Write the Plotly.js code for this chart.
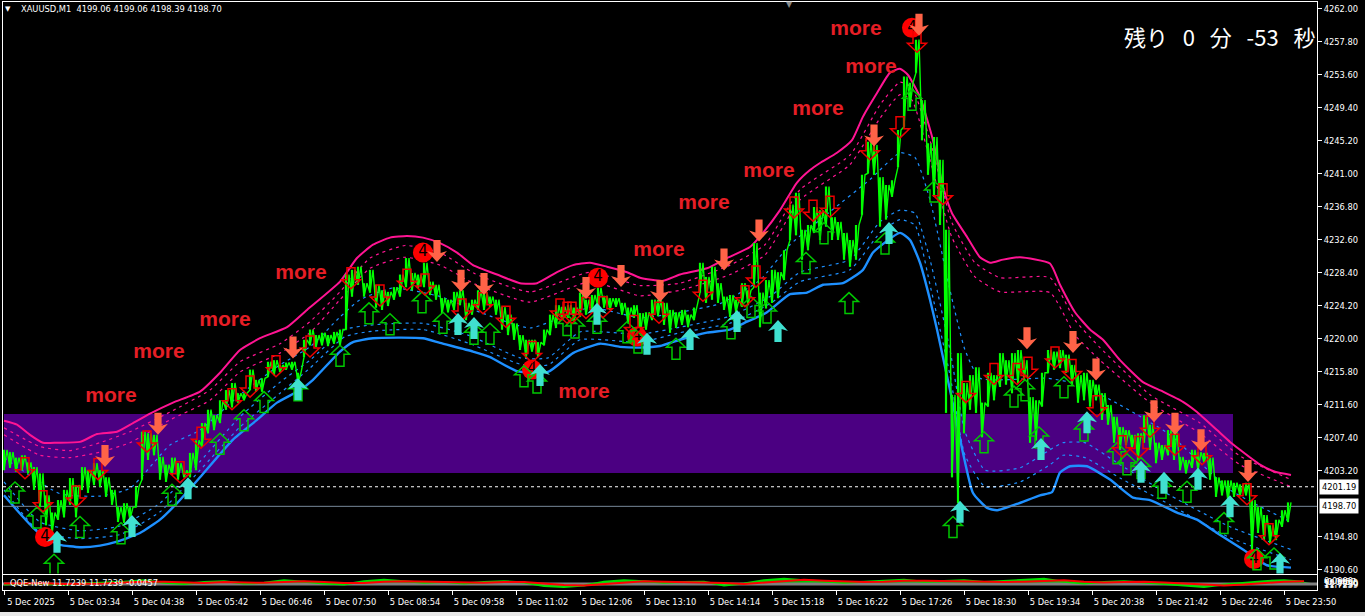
<!DOCTYPE html>
<html><head><meta charset="utf-8">
<script src="https://cdn.plot.ly/plotly-3.0.1.min.js"></script>
<style>html,body{margin:0;padding:0;background:#000;overflow:hidden}</style></head>
<body><div id="chart" style="width:1365px;height:616px"></div>
<script>
// x axis unit: minutes since 02:26 on 5 Dec 2025 (one bar per minute)
const tickMinutes=[4,68,132,196,260,324,388,452,516,580,644,708,772,836,900,964,1028,1092,1156,1220,1284];
const tickLabels=["5 Dec 2025","5 Dec 03:34","5 Dec 04:38","5 Dec 05:42","5 Dec 06:46","5 Dec 07:50","5 Dec 08:54","5 Dec 09:58","5 Dec 11:02","5 Dec 12:06","5 Dec 13:10","5 Dec 14:14","5 Dec 15:18","5 Dec 16:22","5 Dec 17:26","5 Dec 18:30","5 Dec 19:34","5 Dec 20:38","5 Dec 21:42","5 Dec 22:46","5 Dec 23:50"];
const priceTicks=[4262,4257.8,4253.6,4249.4,4245.2,4241,4236.8,4232.6,4228.4,4224.2,4220,4215.8,4211.6,4207.4,4203.2,4194.8,4190.6];
const priceTickText=["4262.00","4257.80","4253.60","4249.40","4245.20","4241.00","4236.80","4232.60","4228.40","4224.20","4220.00","4215.80","4211.60","4207.40","4203.20","4194.80","4190.60"];
const askLine=4201.19, bidLine=4198.70;
const zoneLow=4202.95, zoneHigh=4210.45, zoneStart=4, zoneEnd=1233;

// high and low of every six-bar stretch, first stretch at minute 4
const priceHigh=[
4205.9,4205.6,4204.9,4205.2,4204.3,4203.7,4202.9,4200.1,4197.9,4199.5,
4200.8,4202.3,4201.4,4203.7,4203.3,4204.2,4203.3,4202.4,4200.8,4198.6,
4199.1,4198.6,4201.2,4208.2,4208.0,4207.8,4205.0,4204.0,4204.9,4204.2,
4203.3,4205.5,4207.1,4209.3,4211.0,4210.3,4212.2,4213.5,4214.4,4213.1,
4213.1,4216.1,4214.8,4215.0,4217.1,4217.3,4216.7,4217.0,4217.1,4215.7,
4219.9,4221.2,4220.5,4220.8,4220.5,4220.9,4221.2,4228.2,4228.8,4229.2,
4227.1,4228.8,4226.9,4226.2,4226.0,4226.6,4228.2,4230.3,4228.4,4228.2,
4229.7,4227.3,4226.9,4225.2,4225.0,4226.0,4226.2,4224.6,4225.0,4226.2,
4225.9,4225.4,4225.0,4224.1,4223.1,4222.0,4220.5,4219.9,4219.9,4219.6,
4221.2,4223.1,4224.3,4224.1,4224.3,4224.0,4225.9,4225.0,4225.6,4226.5,
4225.5,4225.2,4225.2,4224.6,4224.0,4224.3,4223.3,4223.4,4225.0,4225.0,
4224.6,4223.7,4223.4,4223.7,4223.1,4224.0,4229.7,4227.9,4229.2,4227.1,
4225.4,4225.6,4225.0,4227.1,4226.2,4232.2,4225.9,4227.5,4228.8,4228.5,
4231.3,4237.1,4238.6,4233.9,4234.5,4236.8,4236.4,4239.4,4235.5,4234.9,
4233.5,4232.6,4234.5,4240.9,4245.1,4244.7,4240.6,4239.6,4240.2,4246.6,
4253.4,4252.6,4258.1,4250.4,4244.9,4245.7,4242.8,4233.9,4212.9,4218.2,
4214.4,4215.4,4216.4,4211.9,4215.7,4215.4,4218.2,4217.3,4218.2,4218.6,
4217.3,4212.6,4212.2,4215.7,4218.6,4218.4,4218.6,4218.0,4216.7,4215.4,
4215.7,4214.8,4214.2,4213.1,4211.6,4210.1,4208.8,4208.4,4207.8,4208.0,
4210.3,4209.1,4206.8,4206.5,4208.4,4208.2,4205.0,4204.6,4205.9,4205.6,
4205.5,4204.9,4202.4,4202.0,4202.0,4201.7,4201.5,4201.7,4199.5,4198.6,
4197.6,4196.3,4197.0,4198.2,4199.2];
const priceLow=[
4203.3,4203.6,4203.1,4203.3,4202.9,4200.8,4198.6,4196.3,4195.3,4197.0,
4197.3,4198.9,4197.3,4200.8,4200.4,4201.4,4201.2,4199.9,4198.9,4196.7,
4196.6,4197.0,4198.6,4202.1,4204.6,4205.2,4202.1,4201.8,4202.7,4202.1,
4202.4,4202.4,4203.3,4206.3,4208.0,4208.4,4209.3,4211.0,4211.3,4211.9,
4212.2,4213.5,4213.3,4213.3,4215.2,4215.4,4215.8,4216.1,4216.1,4214.4,
4217.7,4219.2,4219.0,4219.2,4219.1,4219.4,4219.2,4221.2,4225.4,4226.9,
4225.4,4225.9,4224.0,4223.7,4224.2,4225.0,4225.4,4226.6,4226.2,4226.5,
4226.6,4225.6,4225.0,4223.3,4223.4,4223.7,4224.3,4222.4,4223.1,4223.7,
4223.7,4224.1,4223.1,4221.2,4220.5,4219.9,4218.6,4217.6,4218.4,4217.7,
4219.2,4220.5,4221.4,4222.4,4222.7,4222.4,4222.8,4223.1,4223.7,4224.1,
4224.0,4223.7,4224.1,4223.1,4222.0,4222.7,4220.3,4221.2,4222.4,4222.9,
4221.8,4220.8,4221.4,4221.8,4221.5,4222.4,4225.9,4224.6,4225.0,4224.6,
4223.7,4222.8,4223.4,4224.1,4224.3,4226.6,4221.5,4223.9,4224.6,4225.2,
4227.5,4232.6,4233.2,4230.1,4231.3,4233.5,4232.6,4234.3,4232.6,4232.6,
4230.1,4229.2,4230.1,4235.8,4241.1,4240.9,4234.3,4235.2,4238.1,4241.9,
4247.0,4249.5,4253.9,4245.3,4240.9,4238.1,4234.5,4210.6,4202.4,4199.1,
4208.0,4211.0,4210.6,4207.5,4211.4,4212.2,4213.9,4214.2,4213.1,4214.4,
4214.8,4206.8,4207.1,4211.4,4215.7,4216.1,4216.3,4215.7,4214.2,4211.9,
4212.2,4211.4,4212.2,4209.7,4209.1,4206.8,4205.9,4206.5,4206.1,4204.6,
4206.8,4205.9,4204.2,4204.6,4205.2,4204.6,4203.3,4202.9,4203.6,4203.3,
4204.3,4202.1,4199.9,4200.1,4199.5,4199.9,4200.0,4200.1,4193.1,4195.3,
4194.4,4194.0,4194.4,4196.1,4196.7];

const upperX=[4,17,30,43,57,80,97,117,133,150,173,200,220,240,260,287,307,340,357,373,390,407,423,440,457,473,497,520,537,557,573,590,607,627,640,663,680,707,727,750,763,780,797,810,820,837,852,863,877,890,900,908,920,933,943,952,967,980,990,1003,1020,1050,1060,1075,1090,1103,1120,1143,1163,1183,1197,1217,1230,1240,1260,1275,1291];
const upperY=[4209.6,4209.1,4207.8,4206.8,4206.8,4206.9,4207.9,4208.2,4209.3,4210.5,4211.9,4213.3,4215.7,4218.6,4220.1,4221.5,4223.7,4227.3,4230.3,4232,4232.9,4233.1,4232.9,4232.2,4231,4229.4,4228.2,4227.1,4227.1,4228.5,4229.4,4229.7,4229.2,4228.5,4227.8,4227.4,4228.2,4229,4230.3,4231.7,4233.5,4236.4,4239.9,4241.5,4242.4,4243.7,4245.3,4248.3,4251.3,4253.9,4254.4,4253.6,4250.8,4245.3,4239.4,4236,4233,4230.4,4229.7,4230.1,4230.4,4229.6,4226.9,4223.4,4221.2,4219.9,4217.3,4214.5,4213.3,4212,4210.7,4208.4,4206.9,4205.9,4204,4203.1,4202.7];
const pinkDashX=[4,40,70,100,130,170,210,240,280,310,340,370,405,440,475,530,590,640,680,730,765,800,850,880,900,912,930,952,975,1000,1050,1075,1100,1150,1200,1240,1291];
const pinkDash1=[4208.7,4206.3,4205.8,4206.8,4208.2,4210.7,4213.5,4217.1,4219.4,4222.2,4226,4230.3,4231.9,4231,4228.3,4226,4228.5,4226.8,4227.1,4229.4,4232,4239,4243.4,4249.8,4252.7,4252,4245.3,4234.8,4229.7,4227.8,4227.8,4222.4,4218.9,4212.9,4209.3,4205.1,4202.1];
const pinkDash2=[4207.8,4205.2,4204.9,4205.6,4206.8,4209.7,4212.2,4215.8,4218.2,4220.8,4225,4229,4230.4,4229.4,4227,4224.7,4227.3,4225.5,4226.2,4228.2,4230.7,4237.7,4242.2,4248.1,4251.1,4250.4,4242.8,4232.9,4227.9,4226,4225.9,4220.5,4217.3,4211.9,4208,4204,4201.2];
const lowerX=[4,17,33,45,60,80,100,117,140,160,177,200,233,257,277,300,313,340,353,373,423,440,473,490,517,548,573,600,620,640,660,680,707,730,747,767,790,807,823,843,863,873,900,910,920,930,937,950,963,973,987,997,1017,1040,1052,1060,1070,1087,1110,1133,1150,1177,1197,1217,1243,1267,1291];
const lowerY=[4200.1,4198.2,4196,4194.7,4193.8,4193.5,4193.7,4194.2,4195.3,4197,4199.1,4202.4,4207.2,4209.7,4211.9,4213.5,4214.8,4218.4,4219.6,4220.1,4220.1,4219.5,4218.4,4217.7,4215.9,4215.8,4218.2,4219.4,4219,4218.9,4219.1,4219.9,4220.8,4221.2,4222.2,4223.4,4225.7,4225.9,4226.9,4227.1,4228.8,4231,4233.5,4232.6,4229.7,4225,4221.2,4213.5,4205.5,4200.4,4198.5,4198.2,4199,4200.1,4200.5,4203,4203.8,4203.8,4202.1,4199.8,4199.5,4197.9,4197,4195.3,4193.2,4191.2,4190.9];
const midX=[4,60,100,130,170,200,240,280,310,340,360,393,440,480,530,590,640,680,720,760,790,830,870,900,915,930,950,965,980,1047,1080,1120,1170,1230,1291];
const midY=[4204.9,4200.3,4200,4201,4206.5,4208.4,4212.9,4216.7,4219,4222.8,4225,4226.5,4225.4,4223.4,4221.4,4224,4222.7,4223.4,4224.5,4227.5,4232,4236.2,4240.3,4243.7,4243.1,4237.7,4226.2,4218.6,4215,4215,4214.2,4211.6,4207.8,4200.8,4196.7];
const blueDashX=[4,40,80,120,160,200,240,280,310,345,373,423,470,520,548,580,640,680,730,770,800,850,880,900,915,930,950,965,985,1020,1050,1063,1085,1120,1170,1230,1291];
const blueDash1=[4201.8,4196.7,4195.6,4196.2,4199.1,4204.4,4210.1,4214.5,4217.3,4221.2,4221.8,4222,4220.4,4217.6,4217.6,4220.9,4220.6,4221.5,4222.9,4225.4,4228.5,4230.1,4234.9,4236.4,4236,4230.1,4218.6,4208.2,4203.3,4203.6,4205.9,4206.8,4206.8,4204,4200.1,4196.1,4193.2];
const blueDash2=[4200.8,4195.4,4194.6,4195.1,4198,4203.3,4208.8,4213.1,4216.3,4220.3,4221,4221.2,4219.4,4216.8,4216.7,4219.9,4219.6,4220.8,4222,4224.5,4227.3,4228.8,4233.5,4235.2,4234.5,4226.9,4215.4,4205.2,4201.2,4201.8,4204,4205.2,4204.9,4202.3,4198.9,4194.7,4191.9];

// arrow signals: minute and the price at the arrow's tip
const openUpX=[15,37,54,80,121,172,220,244,264,298,340,369,390,422,443,474,490,524,537,567,575,597,627,638,676,731,751,767,806,824,849,885,912,934,953,984,1014,1025,1039,1064,1084,1117,1127,1141,1162,1187,1224,1257,1274];
const openUpY=[4201.8,4198.6,4192.6,4197.4,4196.6,4201.5,4208,4211,4213.3,4214.8,4219.2,4224.6,4223.2,4226,4223.4,4222,4222,4216.6,4215.8,4223.1,4222.8,4223.4,4222.2,4220.9,4220.1,4222.7,4225.4,4224.7,4231,4234.8,4225.9,4233.5,4251.8,4240.1,4197.4,4208.2,4214,4214.8,4208.8,4215.2,4209.7,4206.8,4205.4,4204.9,4202.4,4201.9,4197.9,4193.3,4193.4];
const solidUpX=[57,132,188,298,458,474,540,597,647,690,737,778,889,960,1041,1087,1141,1164,1198,1230,1280];
const solidUpY=[4195.6,4197.6,4202.4,4215,4223.3,4222.8,4216.8,4224.6,4220.8,4221.4,4223.7,4222.4,4234.9,4199.4,4207.4,4210.8,4204.5,4203.1,4203.6,4200.1,4192.8];
const solidDownX=[105,158,293,437,461,484,586,621,660,724,759,874,919,1027,1073,1096,1154,1175,1201,1248];
const solidDownY=[4203.7,4207.8,4217.5,4229.8,4226,4225.6,4225.1,4226.6,4224.7,4228.7,4232.4,4244.5,4258.6,4218.7,4218.2,4214.7,4209.4,4207.8,4205.7,4201.8];
const openDownX=[25,43,76,98,147,180,201,232,250,276,310,351,380,407,425,462,483,506,532,560,567,572,586,603,634,659,703,745,756,794,813,830,870,900,917,943,966,994,1017,1028,1055,1072,1097,1122,1139,1150,1175,1202,1247,1269];
const openDownY=[4202.2,4198,4198.6,4202.1,4205.6,4201.7,4206.1,4211,4212.6,4215.2,4217.7,4226.4,4224.2,4226.2,4225.6,4222.4,4223.2,4221.5,4217,4222.4,4222,4222,4222.6,4222.7,4220.3,4222,4224.8,4224.1,4226.6,4235.4,4235,4235.5,4242.8,4245.6,4256.5,4237.1,4211.9,4214.2,4214.2,4215,4216.3,4214.7,4210.1,4205,4204.9,4207.5,4205.2,4204,4198.9,4193.8];
const circleX=[45,423,532,598,637,912,1254];
const circleY=[4194.8,4231,4216.1,4227.8,4220.3,4259.6,4192];
const moreX=[111,159,225,301,584,659,704,769,818,871,856];
const moreY=[4212.7,4218.3,4222.3,4228.3,4213.2,4231.2,4237.2,4241.3,4249.2,4254.5,4259.4];

// QQE pane, one reading every twenty minutes from minute 4
const qqeFast=[48,52,50,47,52,55,60,66,55,50,58,62,52,55,66,60,52,48,62,68,60,55,58,52,58,62,56,42,38,44,60,66,62,55,58,60,44,52,66,72,66,60,55,60,65,68,60,64,66,58,62,66,72,60,52,58,62,56,50,44,38,48,56,62,66,60];
const qqeSlow=[52,54,53,50,50,52,56,60,60,56,54,58,57,55,58,62,58,54,54,60,62,60,58,56,55,58,58,52,46,44,50,58,62,60,58,58,54,50,56,64,68,64,60,58,60,64,64,62,62,60,58,60,64,66,60,56,58,60,56,52,46,44,48,54,60,62];
const qqeX=qqeFast.map((_,i)=>4+20*i);
const qqeMid=[50,50];

const priceX=[],priceZig=[],barX=[],barY=[];
priceHigh.forEach((h,i)=>{
  priceX.push(4+6*i,7+6*i);priceZig.push(priceLow[i],h);
  barX.push(4+6*i,4+6*i,null);barY.push(priceLow[i],h,null);
});

const xr=[3,1317];
function band(x,y,color,w,dash){return {x:x,y:y,type:'scatter',mode:'lines',hoverinfo:'skip',line:{color:color,width:w,dash:dash||'solid',shape:'spline',smoothing:0.5},xaxis:'x',yaxis:'y'};}
const dot='3px,4px';
const traces=[
 band(pinkDashX,pinkDash1,'#ff1493',1.2,dot),
 band(pinkDashX,pinkDash2,'#ff1493',1.2,dot),
 band(upperX,upperY,'#ff1493',2),
 band(midX,midY,'#1e90ff',1.2,dot),
 band(blueDashX,blueDash1,'#1e90ff',1.2,dot),
 band(blueDashX,blueDash2,'#1e90ff',1.2,dot),
 band(lowerX,lowerY,'#1e90ff',2.4),
 {x:xr,y:[askLine,askLine],type:'scatter',mode:'lines',hoverinfo:'skip',line:{color:'#ffffff',width:1,dash:'3px,3px'}},
 {x:xr,y:[bidLine,bidLine],type:'scatter',mode:'lines',hoverinfo:'skip',line:{color:'#778899',width:1}},
 {x:barX,y:barY,type:'scatter',mode:'lines',connectgaps:false,hoverinfo:'skip',line:{color:'#00ff00',width:2.2}},
 {x:priceX,y:priceZig,type:'scatter',mode:'lines',hoverinfo:'skip',line:{color:'#00ff00',width:1.4}},
 {x:moreX,y:moreY,text:moreX.map(()=>'more'),type:'scatter',mode:'text',textposition:'middle center',hoverinfo:'skip',textfont:{family:'Liberation Sans',size:21,color:'#e61e25',weight:700}},
 {x:circleX,y:circleY,text:circleX.map(()=>'4'),type:'scatter',mode:'markers+text',textposition:'middle center',hoverinfo:'skip',marker:{color:'#ff0000',size:20,line:{width:0}},textfont:{family:'DejaVu Sans',size:15,color:'#000000'}},
 {x:xr,y:qqeMid,type:'scatter',mode:'lines',hoverinfo:'skip',line:{color:'#808080',width:3},xaxis:'x2',yaxis:'y2'},
 {x:qqeX,y:qqeFast,type:'scatter',mode:'lines',fill:'tonexty',fillcolor:'#00c000',hoverinfo:'skip',line:{color:'#00e000',width:2},xaxis:'x2',yaxis:'y2'},
 {x:qqeX,y:qqeSlow,type:'scatter',mode:'lines',hoverinfo:'skip',line:{color:'#ff0000',width:2},xaxis:'x2',yaxis:'y2'}
];

const upOpen='M0,0 L9.5,-9 L4,-9 L4,-21 L-4,-21 L-4,-9 L-9.5,-9 Z';
const downOpen='M0,0 L9.5,9 L4,9 L4,21 L-4,21 L-4,9 L-9.5,9 Z';
const upSolid='M0,0 L10,-11 L3.6,-9 L3.6,-22 L-3.6,-22 L-3.6,-9 L-10,-11 Z';
const downSolid='M0,0 L10,11 L3.6,9 L3.6,22 L-3.6,22 L-3.6,9 L-10,11 Z';
function arrows(xs,ys,path,fill,stroke){return xs.map((x,i)=>({type:'shape',xref:'x',yref:'y',xsizemode:'pixel',ysizemode:'pixel',xanchor:x,yanchor:ys[i],path:path,fillcolor:fill,line:{color:stroke,width:1.5},layer:'above'}));}
const shapes=[
 {type:'rect',xref:'x',yref:'y',x0:zoneStart,x1:zoneEnd,y0:zoneLow,y1:zoneHigh,fillcolor:'#4b0082',line:{width:0},layer:'below'},
 {type:'rect',xref:'paper',yref:'paper',x0:-0.01,x1:1.04,y0:-0.0442,y1:-0.0374,fillcolor:'#e8e8e8',line:{width:0},layer:'above'}
].concat(
 arrows(openUpX,openUpY,upOpen,'rgba(0,0,0,0)','#00c800'),
 arrows(openDownX,openDownY,downOpen,'rgba(0,0,0,0)','#ee0000'),
 arrows(solidUpX,solidUpY,upSolid,'#40e0d0','#40e0d0').map(s=>{s.line.width=0;return s;}),
 arrows(solidDownX,solidDownY,downSolid,'#ff6347','#ff6347').map(s=>{s.line.width=0;return s;})
);
const labelFont={family:'DejaVu Sans',size:8.3,color:'#ffffff'};
function side(y,txt){return {xref:'paper',yref:'y',x:1.0016,y:y,xanchor:'left',yanchor:'middle',text:txt,showarrow:false,bgcolor:'#ffffff',borderpad:2,font:{family:'DejaVu Sans',size:8.3,color:'#000000'}};}
function subLabel(txt,dy){return {xref:'paper',yref:'paper',x:1.0035,y:0.0125,yshift:dy,xanchor:'left',yanchor:'middle',text:txt,showarrow:false,font:labelFont};}
const annotations=[
 side(askLine,'4201.19'),side(bidLine,'4198.70'),
 {xref:'paper',yref:'paper',x:0.0122,y:0.9875,xanchor:'left',yanchor:'middle',text:'XAUUSD,M1\u00a0\u00a04199.06 4199.06 4198.39 4198.70',showarrow:false,font:labelFont},
 {xref:'paper',yref:'paper',x:0.0038,y:0.9875,xanchor:'center',yanchor:'middle',text:'▼',showarrow:false,font:{family:'DejaVu Sans',size:7,color:'#ffffff'}},
 {xref:'paper',yref:'paper',x:0.5985,y:0.995,xanchor:'center',yanchor:'middle',text:'▼',showarrow:false,font:{family:'DejaVu Sans',size:8,color:'#8a8a8a'}},
 {xref:'paper',yref:'paper',x:1.0,y:0.942,xanchor:'right',yanchor:'middle',text:'残り\u00a0\u00a0\u00a00\u00a0\u00a0\u00a0分\u00a0\u00a0\u00a0-53\u00a0\u00a0\u00a0秒',showarrow:false,font:{family:'Noto Sans CJK JP',size:22,color:'#ffffff'}},
 {xref:'paper',yref:'paper',x:0.0035,y:0.0125,xanchor:'left',yanchor:'middle',text:'QQE-New 11.7239 11.7239 -0.0457',showarrow:false,font:labelFont},
 subLabel('11.7239',-2),subLabel('11.7239',-1),subLabel('50.0000',0),subLabel('-0.0457',1),subLabel('0.0000',2)
];
const axisBase={showgrid:false,zeroline:false,showline:true,linecolor:'#ffffff',linewidth:1,mirror:true};
const layout={
 width:1365,height:616,autosize:false,showlegend:false,
 paper_bgcolor:'#000000',plot_bgcolor:'#000000',
 margin:{l:3,r:48,t:2,b:26,pad:0,autoexpand:false},
 xaxis:Object.assign({},axisBase,{domain:[0,1],range:xr,anchor:'y',showticklabels:false,ticks:'',fixedrange:true}),
 yaxis:Object.assign({},axisBase,{domain:[0.02806,1],range:[4190.15,4262.89],side:'right',anchor:'x',tickmode:'array',tickvals:priceTicks,ticktext:priceTickText,ticks:'outside',ticklen:4,tickcolor:'#ffffff',tickfont:labelFont,fixedrange:true}),
 xaxis2:Object.assign({},axisBase,{domain:[0,1],range:xr,anchor:'y2',tickmode:'array',tickvals:tickMinutes,ticktext:tickLabels,ticks:'outside',ticklen:4,tickcolor:'#ffffff',tickfont:labelFont,ticklabelshift:27,tickangle:0,fixedrange:true}),
 yaxis2:Object.assign({},axisBase,{domain:[0,0.02466],range:[25.4,85.4],side:'right',anchor:'x2',showticklabels:false,ticks:'',fixedrange:true}),
 shapes:shapes,annotations:annotations
};
Plotly.newPlot('chart',traces,layout,{staticPlot:true,displayModeBar:false});
</script></body></html>
